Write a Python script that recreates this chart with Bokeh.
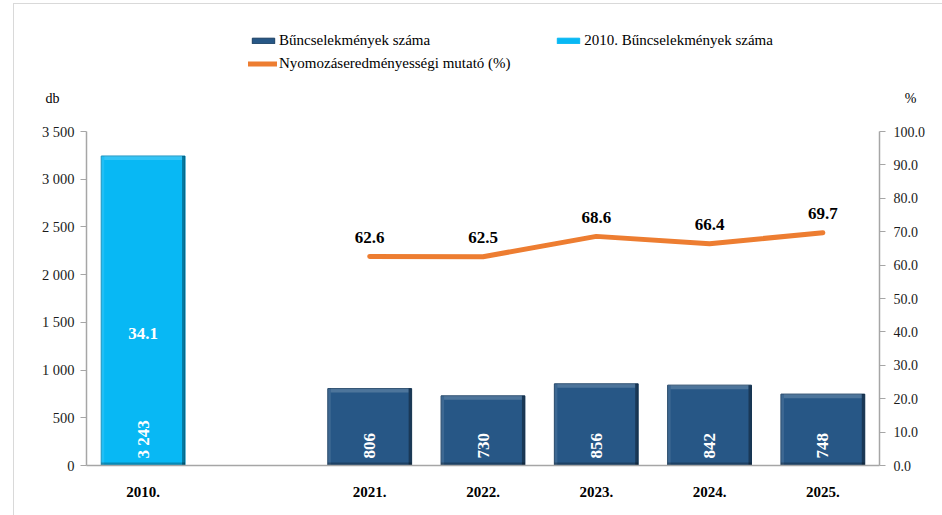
import math
from bokeh.plotting import figure
from bokeh.layouts import column
from bokeh.models import (ColumnDataSource, FactorRange, Range1d, LinearAxis, FixedTicker,
                          NumeralTickFormatter, Legend, LegendItem, Label)
from bokeh.transform import dodge
from bokeh.core.properties import value
from bokeh.embed import file_html
from bokeh.resources import INLINE

# ---- data ----
categories = ["2010.", " ", "2021.", "2022.", "2023.", "2024.", "2025."]
crime_counts = [3243, None, 806, 730, 856, 842, 748]
clearance_pct = [34.1, None, 62.6, 62.5, 68.6, 66.4, 69.7]
left_ticks = [0, 500, 1000, 1500, 2000, 2500, 3000, 3500]
left_tick_labels = ["0", "500", "1 000", "1 500", "2 000", "2 500", "3 000", "3 500"]
right_ticks = [0, 10, 20, 30, 40, 50, 60, 70, 80, 90, 100]
series_names = ["Bűncselekmények száma", "2010. Bűncselekmények száma",
                "Nyomozáseredményességi mutató (%)"]
left_unit = "db"
right_unit = "%"

# ---- style ----
FONT = "Liberation Serif"
DARK = "#275786"
LIGHT = "#08B8F4"
ORANGE = "#ED7D31"
GRAY = "#A6A6A6"
W = 942
HEAD_H = 110
MAIN_H = 515 - HEAD_H
BAR_W = 0.74
Y_MAX = 3500
PX_Y = Y_MAX / 333.5        # data units per pixel on left axis
PX_X = 1 / 113.3            # category units per pixel

def fmt_int(v):
    return f"{v:,}".replace(",", " ")

base_idx = 0
bar_idx = [i for i, v in enumerate(crime_counts) if v is not None and i != base_idx]

def bar_source(idxs):
    tops = [crime_counts[i] for i in idxs]
    return ColumnDataSource(dict(
        x=[categories[i] for i in idxs], top=tops,
        hl_bottom=[t - 4 * PX_Y for t in tops],
        lab=[fmt_int(t) for t in tops]))

src_base = bar_source([base_idx])
src_bars = bar_source(bar_idx)
src_line = ColumnDataSource(dict(x=categories,
                                 y=[float("nan") if v is None else v for v in clearance_pct]))
line_idx = [i for i, v in enumerate(clearance_pct) if v is not None and i != base_idx]
src_line_lab = ColumnDataSource(dict(x=[categories[i] for i in line_idx],
                                     y=[clearance_pct[i] for i in line_idx],
                                     lab=[f"{clearance_pct[i]:.1f}" for i in line_idx]))
src_base_lab = ColumnDataSource(dict(x=[categories[base_idx]], y=[clearance_pct[base_idx]],
                                     lab=[f"{clearance_pct[base_idx]:.1f}"]))

# ================= main chart =================
p = figure(width=W, height=MAIN_H, x_range=FactorRange(factors=categories, range_padding=0),
           y_range=Range1d(0, Y_MAX), output_backend="svg", toolbar_location=None,
           min_border_left=86, min_border_right=63, min_border_top=21, min_border_bottom=50,
           background_fill_color="white", border_fill_alpha=0)
p.frame_align = False
p.extra_y_ranges = {"pct": Range1d(0, 100)}
p.outline_line_color = None
p.xgrid.visible = False
p.ygrid.visible = False

# bars
r_bars = p.vbar(x="x", top="top", bottom=0, width=BAR_W, source=src_bars,
                fill_color=DARK, line_color="#1B3F62", line_width=1)
r_base = p.vbar(x="x", top="top", bottom=0, width=BAR_W, source=src_base,
                fill_color=LIGHT, line_color="#0A8CBC", line_width=1)

# bevel shading (style only)
edge = 3 * PX_X
for src in (src_bars, src_base):
    p.vbar(x="x", top="top", bottom="hl_bottom", width=BAR_W - 2 * edge, source=src,
           fill_color="white", fill_alpha=0.18, line_color=None)
    p.vbar(x=dodge("x", BAR_W / 2 - edge / 2, range=p.x_range), top="top", bottom=0,
           width=edge, source=src, fill_color="black", fill_alpha=0.35, line_color=None)
    p.vbar(x=dodge("x", -BAR_W / 2 + edge / 2, range=p.x_range), top="top", bottom=0,
           width=edge, source=src, fill_color="white", fill_alpha=0.10, line_color=None)
    p.vbar(x="x", top=3 * PX_Y, bottom=0, width=BAR_W, source=src,
           fill_color="black", fill_alpha=0.25, line_color=None)

# line
r_line = p.line(x="x", y="y", source=src_line, y_range_name="pct", line_color=ORANGE,
                line_width=5, line_cap="round", line_join="round")

# bar value labels (rotated)
for src in (src_bars, src_base):
    p.text(x="x", y=0, text="lab", source=src, angle=math.pi / 2, text_align="left",
           text_baseline="middle", y_offset=-7, text_color="white",
           text_font=value(FONT), text_font_size="17px", text_font_style="bold")

# line value labels
p.text(x="x", y="y", text="lab", source=src_line_lab, y_range_name="pct",
       text_align="center", text_baseline="middle", y_offset=-19, text_color="black",
       text_font=value(FONT), text_font_size="17px", text_font_style="bold")
p.text(x="x", y="y", text="lab", source=src_base_lab, y_range_name="pct",
       text_align="center", text_baseline="middle", y_offset=-18, text_color="white",
       text_font=value(FONT), text_font_size="17px", text_font_style="bold")

# axes
xa = p.xaxis[0]
xa.axis_line_color = GRAY
xa.axis_line_width = 1.5
xa.major_tick_line_color = None
xa.minor_tick_line_color = None
xa.major_label_text_font = FONT
xa.major_label_text_font_size = "15px"
xa.major_label_text_font_style = "bold"
xa.major_label_text_color = "black"
xa.major_label_standoff = 12

ya = p.yaxis[0]
ya.ticker = FixedTicker(ticks=left_ticks)
ya.major_label_overrides = {t: l for t, l in zip(left_ticks, left_tick_labels)}
ya.axis_line_color = GRAY
ya.axis_line_width = 1.5
ya.major_tick_line_color = GRAY
ya.major_tick_in = 0
ya.major_tick_out = 6
ya.minor_tick_line_color = None
ya.major_label_text_font = FONT
ya.major_label_text_font_size = "14.5px"
ya.major_label_text_color = "#1a1a1a"
ya.major_label_standoff = 6

ra = LinearAxis(y_range_name="pct", ticker=FixedTicker(ticks=right_ticks),
                formatter=NumeralTickFormatter(format="0.0"))
ra.axis_line_color = GRAY
ra.axis_line_width = 1.5
ra.major_tick_line_color = GRAY
ra.major_tick_in = 0
ra.major_tick_out = 6
ra.minor_tick_line_color = None
ra.major_label_text_font = FONT
ra.major_label_text_font_size = "14px"
ra.major_label_text_color = "#1a1a1a"
ra.major_label_standoff = 8
p.add_layout(ra, "right")

# ================= header (legend + unit labels) =================
h = figure(width=W, height=HEAD_H, x_range=Range1d(0, W), y_range=Range1d(HEAD_H, 0),
           output_backend="svg", toolbar_location=None, min_border=0,
           min_border_left=0, min_border_right=0, min_border_top=0, min_border_bottom=0,
           background_fill_alpha=0, border_fill_alpha=0)
h.frame_align = False
h.axis.visible = False
h.grid.visible = False
h.outline_line_color = None

nan = float("nan")
dummy = dict(x=[nan], top=[nan])
d_bars = h.vbar(x="x", top="top", width=1, source=ColumnDataSource(dummy),
                fill_color=DARK, line_color="#1B3F62")
d_base = h.vbar(x="x", top="top", width=1, source=ColumnDataSource(dummy),
                fill_color=LIGHT, line_color=LIGHT)
d_line = h.line(x="x", y="top", source=ColumnDataSource(dummy), line_color=ORANGE,
                line_width=5, line_cap="round")

leg1 = Legend(items=[LegendItem(label=series_names[0], renderers=[d_bars]),
                     LegendItem(label=series_names[1], renderers=[d_base])],
              orientation="horizontal", location=(249, HEAD_H - 49), padding=0, margin=0,
              spacing=124, glyph_width=28, glyph_height=7, label_standoff=2,
              label_text_font=FONT, label_text_font_size="15px", label_text_color="black",
              background_fill_alpha=0, border_line_color=None)
leg2 = Legend(items=[LegendItem(label=series_names[2], renderers=[d_line])],
              orientation="horizontal", location=(248, HEAD_H - 72), padding=0, margin=0,
              glyph_width=29, glyph_height=17, label_standoff=2,
              label_text_font=FONT, label_text_font_size="15px", label_text_color="black",
              background_fill_alpha=0, border_line_color=None)
h.add_layout(leg1, "center")
h.add_layout(leg2, "center")

h.add_layout(Label(x=52, y=98, text=left_unit, text_align="center", text_baseline="middle",
                   text_font=FONT, text_font_size="14px", text_color="black"))
h.add_layout(Label(x=910, y=98, text=right_unit, text_align="center", text_baseline="middle",
                   text_font=FONT, text_font_size="14px", text_color="black"))

layout = column(h, p, spacing=0, styles={
    "background-color": "white",
    "background-image": "linear-gradient(#d9d9d9,#d9d9d9), linear-gradient(#d9d9d9,#d9d9d9)",
    "background-size": "1px calc(100% - 3px), calc(100% - 13px) 1px",
    "background-position": "13px 3px, 13px 3px",
    "background-repeat": "no-repeat",
})

open("out.html", "w").write(file_html(layout, INLINE))
